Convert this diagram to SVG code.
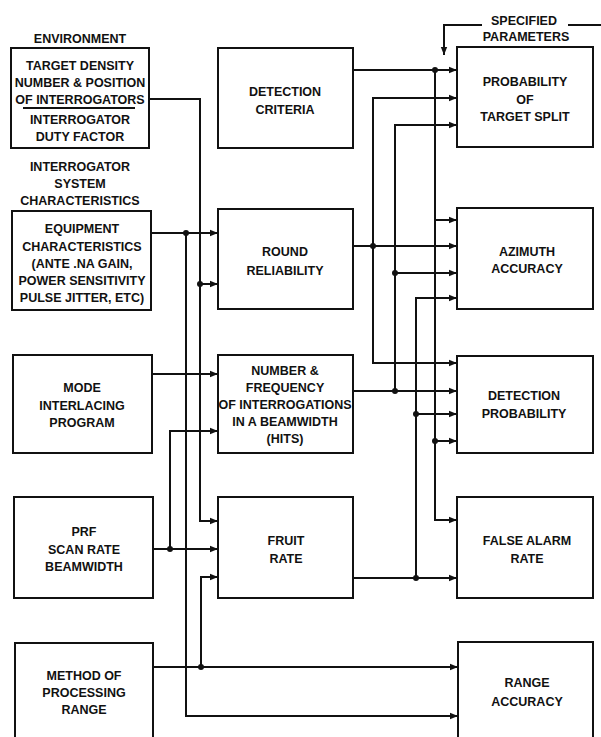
<svg xmlns="http://www.w3.org/2000/svg" width="601" height="737" viewBox="0 0 601 737">
<style>
.box{fill:none;stroke:#111;stroke-width:2}
.ln{fill:none;stroke:#111;stroke-width:2}
text{font-family:"Liberation Sans",Arial,sans-serif;font-weight:bold;font-size:12.5px;fill:#111;text-anchor:middle}
.dot{fill:#111}
</style>
<defs>
<marker id="arr" viewBox="0 0 10 10" refX="10" refY="5" markerWidth="8" markerHeight="8" markerUnits="userSpaceOnUse" orient="auto"><path d="M0,1 L10,5 L0,9 z" fill="#111"/></marker>
</defs>
<rect width="601" height="737" fill="#fff"/>

<g id="labels">
<text x="80" y="43">ENVIRONMENT</text>
<text x="80" y="171">INTERROGATOR</text>
<text x="80" y="188">SYSTEM</text>
<text x="80" y="205">CHARACTERISTICS</text>
<text x="524" y="25">SPECIFIED</text>
<text x="526" y="41">PARAMETERS</text>
</g>

<g id="environment">
<rect class="box" x="11" y="48" width="138" height="100"/>
<text x="80" y="70">TARGET DENSITY</text>
<text x="80" y="87">NUMBER &amp; POSITION</text>
<text x="80" y="104">OF INTERROGATORS</text>
<line class="ln" x1="23" y1="108" x2="135" y2="108"/>
<text x="80" y="124">INTERROGATOR</text>
<text x="80" y="141">DUTY FACTOR</text>
</g>

<g id="equipment">
<rect class="box" x="12" y="211" width="139" height="99"/>
<text x="82" y="233">EQUIPMENT</text>
<text x="82" y="251">CHARACTERISTICS</text>
<text x="82" y="268">(ANTE .NA GAIN,</text>
<text x="82" y="285">POWER SENSITIVITY</text>
<text x="82" y="302">PULSE JITTER, ETC)</text>
</g>

<g id="mode">
<rect class="box" x="13" y="355" width="139" height="98"/>
<text x="82" y="392">MODE</text>
<text x="82" y="410">INTERLACING</text>
<text x="82" y="427">PROGRAM</text>
</g>

<g id="prf">
<rect class="box" x="14" y="497" width="139" height="101"/>
<text x="84" y="536">PRF</text>
<text x="84" y="554">SCAN RATE</text>
<text x="84" y="571">BEAMWIDTH</text>
</g>

<g id="method">
<rect class="box" x="15" y="643" width="138" height="110"/>
<text x="84" y="680">METHOD OF</text>
<text x="84" y="697">PROCESSING</text>
<text x="84" y="714">RANGE</text>
</g>

<g id="detection-criteria">
<rect class="box" x="218" y="48" width="135" height="100"/>
<text x="285" y="96">DETECTION</text>
<text x="285" y="114">CRITERIA</text>
</g>

<g id="round-reliability">
<rect class="box" x="218" y="209" width="135" height="100"/>
<text x="285" y="256">ROUND</text>
<text x="285" y="275">RELIABILITY</text>
</g>

<g id="number-frequency">
<rect class="box" x="218" y="355" width="135" height="98"/>
<text x="285" y="375">NUMBER &amp;</text>
<text x="285" y="392">FREQUENCY</text>
<text x="285" y="409">OF INTERROGATIONS</text>
<text x="285" y="426">IN A BEAMWIDTH</text>
<text x="285" y="443">(HITS)</text>
</g>

<g id="fruit-rate">
<rect class="box" x="218" y="497" width="135" height="101"/>
<text x="286" y="545">FRUIT</text>
<text x="286" y="563">RATE</text>
</g>

<g id="target-split">
<rect class="box" x="457" y="47" width="136" height="100"/>
<text x="525" y="86">PROBABILITY</text>
<text x="525" y="104">OF</text>
<text x="525" y="121">TARGET SPLIT</text>
</g>

<g id="azimuth-accuracy">
<rect class="box" x="457" y="208" width="136" height="101"/>
<text x="527" y="256">AZIMUTH</text>
<text x="527" y="273">ACCURACY</text>
</g>

<g id="detection-probability">
<rect class="box" x="457" y="356" width="136" height="97"/>
<text x="524" y="400">DETECTION</text>
<text x="524" y="418">PROBABILITY</text>
</g>

<g id="false-alarm-rate">
<rect class="box" x="457" y="497" width="136" height="101"/>
<text x="527" y="545">FALSE ALARM</text>
<text x="527" y="563">RATE</text>
</g>

<g id="range-accuracy">
<rect class="box" x="458" y="642" width="135" height="110"/>
<text x="527" y="687">RANGE</text>
<text x="527" y="706">ACCURACY</text>
</g>

<g id="connectors">
<path class="ln" d="M149,99 H200 V521 H218" marker-end="url(#arr)"/>
<path class="ln" d="M200,284 H218" marker-end="url(#arr)"/>
<path class="ln" d="M151,233 H218" marker-end="url(#arr)"/>
<path class="ln" d="M186,233 V716 H458" marker-end="url(#arr)"/>
<path class="ln" d="M152,374 H218" marker-end="url(#arr)"/>
<path class="ln" d="M153,549 H218" marker-end="url(#arr)"/>
<path class="ln" d="M170,549 V431 H218" marker-end="url(#arr)"/>
<path class="ln" d="M153,667 H458" marker-end="url(#arr)"/>
<path class="ln" d="M201,667 V577 H218" marker-end="url(#arr)"/>

<path class="ln" d="M353,70 H457" marker-end="url(#arr)"/>
<path class="ln" d="M435,70 V520 H457" marker-end="url(#arr)"/>
<path class="ln" d="M435,220 H457" marker-end="url(#arr)"/>
<path class="ln" d="M435,441 H457" marker-end="url(#arr)"/>

<path class="ln" d="M353,246 H457" marker-end="url(#arr)"/>
<path class="ln" d="M373,246 V98 H457" marker-end="url(#arr)"/>
<path class="ln" d="M373,246 V363 H457" marker-end="url(#arr)"/>

<path class="ln" d="M353,391 H457" marker-end="url(#arr)"/>
<path class="ln" d="M395,391 V125 H457" marker-end="url(#arr)"/>
<path class="ln" d="M395,273 H457" marker-end="url(#arr)"/>

<path class="ln" d="M353,578 H457" marker-end="url(#arr)"/>
<path class="ln" d="M416,578 V298 H457" marker-end="url(#arr)"/>
<path class="ln" d="M416,414 H457" marker-end="url(#arr)"/>

<path class="ln" d="M482,25 H444 V55" marker-end="url(#arr)"/>
<path class="ln" d="M568,25 H601"/>

<circle class="dot" cx="200" cy="284" r="3"/>
<circle class="dot" cx="186" cy="233" r="3"/>
<circle class="dot" cx="170" cy="549" r="3"/>
<circle class="dot" cx="201" cy="667" r="3"/>
<circle class="dot" cx="435" cy="70" r="3"/>
<circle class="dot" cx="435" cy="441" r="3"/>
<circle class="dot" cx="373" cy="246" r="3"/>
<circle class="dot" cx="395" cy="391" r="3"/>
<circle class="dot" cx="395" cy="273" r="3"/>
<circle class="dot" cx="416" cy="578" r="3"/>
<circle class="dot" cx="416" cy="414" r="3"/>
</g>
</svg>
